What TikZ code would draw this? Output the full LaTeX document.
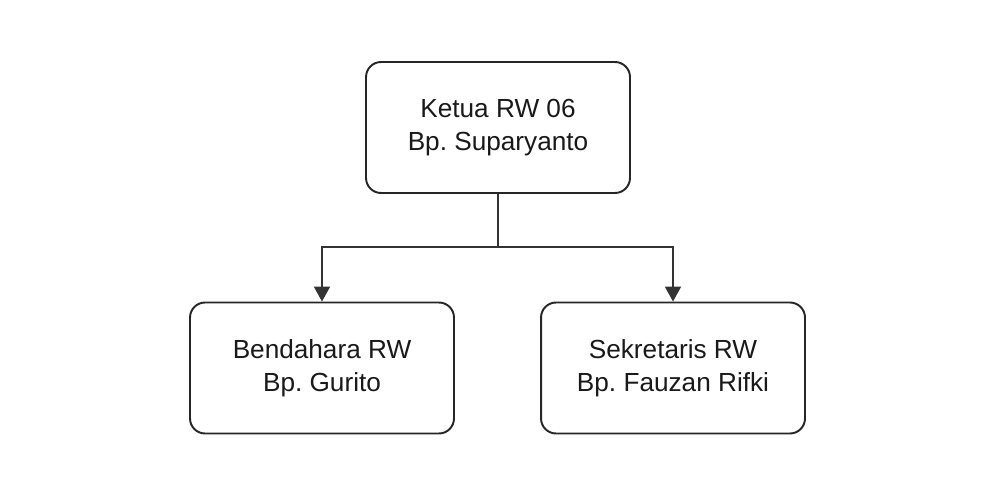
\documentclass[tikz,border=0pt]{standalone}
\usepackage{fontspec}
\setmainfont{Liberation Sans}
\usetikzlibrary{arrows.meta}
\frenchspacing
\begin{document}
\begin{tikzpicture}[x=0.02cm,y=-0.02cm,
  box/.style={draw=black!85, line width=1.1pt, rounded corners=0.3cm, minimum width=5.28cm, minimum height=2.62cm, align=center, font=\fontsize{14.9}{19}\selectfont, text=black!90},
  conn/.style={draw=black!80, line width=1.1pt, -{Triangle[width=0.32cm,length=0.3cm]}}]
\useasboundingbox (0,0) rectangle (1000,500);
\node[box] (ketua) at (498,127.5) {Ketua RW 06\\Bp. Suparyanto};
\node[box] (bend) at (322,368) {Bendahara RW\\Bp. Gurito};
\node[box] (sekr) at (673,368) {Sekretaris RW\\Bp. Fauzan Rifki};
\coordinate (j) at (498,247);
\draw[conn] (ketua.south) -- (j) -| (bend.north);
\draw[conn] (j) -| (sekr.north);
\end{tikzpicture}
\end{document}
